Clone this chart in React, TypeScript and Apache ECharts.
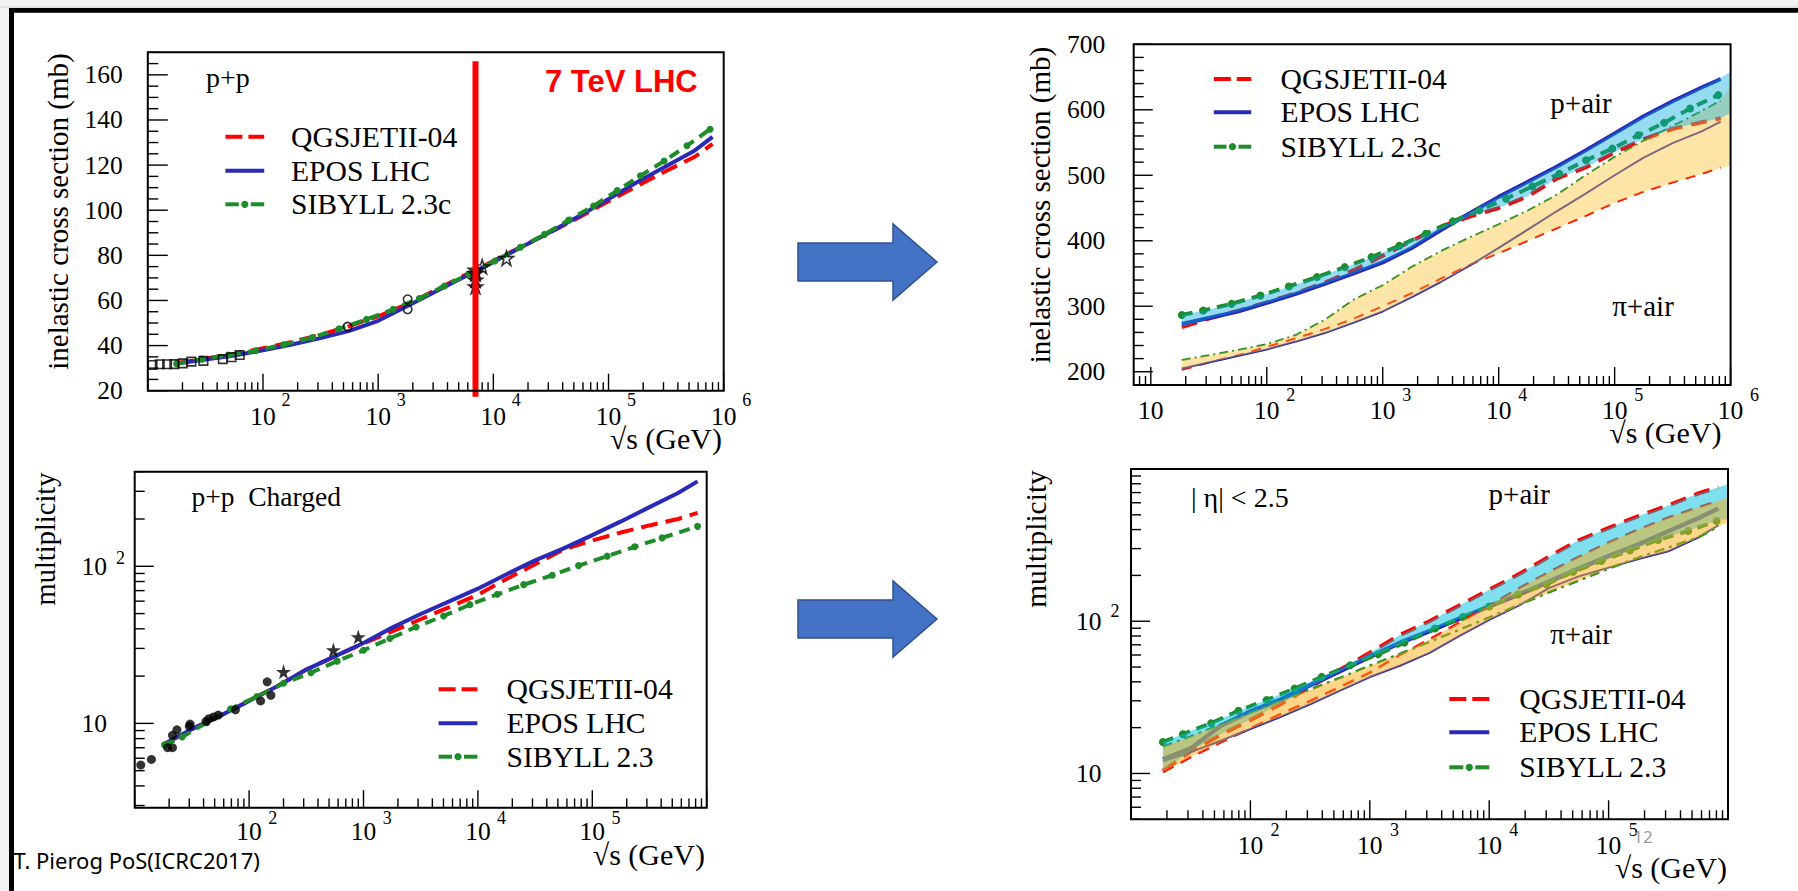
import React, { useEffect, useRef } from "react";
import * as echarts from "echarts";

const SERIF = "'Liberation Serif', 'Times New Roman', Times, serif";
const SANS = "'Liberation Sans', Arial, Helvetica, sans-serif";
const RED = "#ff0000";
const BLUE = "#2a2ab8";
const GREEN = "#1e8c28";

// ---------- p+p inelastic cross section (mb) vs sqrt(s) (GeV) ----------
const ppXsEnergy = [17.8, 31.6, 56.2, 100, 178, 316, 562, 1000, 1780, 3160, 5620, 10000, 17800, 31600, 56200, 100000, 178000, 316000, 562000, 800000];
const ppXsQgsjet = [32.3, 34.2, 36.4, 38.8, 41.6, 44.8, 48.6, 53.0, 58.3, 64.6, 71.2, 77.5, 84.0, 90.4, 97.0, 104.0, 110.8, 117.4, 123.7, 129.4];
const ppXsEpos = [32.0, 33.8, 35.6, 37.9, 40.5, 43.3, 46.5, 51.0, 57.4, 64.0, 70.5, 77.0, 83.8, 90.5, 97.5, 105.0, 112.5, 119.5, 126.5, 132.5];
const ppXsSibyllEnergy = [17.8, 29.5, 50.1, 86.5, 151, 269, 457, 792, 1349, 2275, 3767, 6109, 10304, 17179, 27861, 45186, 74131, 119124, 189234, 304089, 479733, 762079];
const ppXsSibyll = [32.0, 34.0, 35.8, 37.7, 40.4, 43.6, 47.4, 51.6, 56.1, 60.9, 66.4, 71.7, 77.5, 83.6, 89.3, 95.7, 101.9, 108.7, 115.3, 121.8, 128.6, 135.9];
const ppXsFixedTargetE = [11.0, 12.7, 14.7, 17.0, 20.1, 23.9, 30.4, 44.8, 53.3, 62.8];
const ppXsFixedTarget = [31.4, 31.7, 31.7, 31.8, 32.1, 32.9, 33.2, 34.0, 34.8, 35.8];
const ppXsColliderE = [543, 1803, 1803];
const ppXsCollider = [48.4, 60.5, 56.1];
const ppXsLhcE = [7000, 7000, 7000, 7000, 8000, 13000];
const ppXsLhc = [73.5, 69.1, 66.1, 72.0, 75.0, 78.7];
const lhcSqrtS = 7000; // 7 TeV LHC marker

// ---------- p/pi + air inelastic cross section (mb) ----------
const airXsEnergy = [18.5, 31.6, 56.2, 100, 178, 316, 562, 1000, 1780, 3160, 5620, 10000, 17800, 31600, 56200, 100000, 178000, 316000, 562000, 822000];
const pAirXsQgsjet = [268, 281, 293, 306, 320, 336, 355, 377, 400, 421, 437, 450, 468, 495, 512, 535, 555, 571, 581, 587];
const pAirXsEpos = [273, 282, 292, 305, 319, 334, 350, 367, 389, 416, 442, 467, 490, 513, 538, 564, 590, 613, 634, 647];
const pAirXsSibyllEnergy = [18.5, 28.3, 49.7, 88.1, 155, 271, 471, 800, 1390, 2360, 4018, 6823, 11561, 19498, 33343, 56624, 95499, 159956, 266686, 446684, 783430];
const pAirXsSibyll = [286.7, 293.4, 303.6, 316.3, 330.1, 344.4, 359.7, 375.0, 392.3, 410.7, 429.6, 446.4, 464.2, 483.0, 502.4, 522.8, 540.7, 561.0, 580.0, 602.0, 622.4];
const piAirXsQgsjet = [203, 214, 225, 238, 251, 265, 281, 300, 320, 342, 363, 381, 400, 419, 438, 458, 475, 489, 502, 512];
const piAirXsEpos = [205, 214, 224, 234, 246, 259, 275, 292, 314, 337, 362, 389, 417, 445, 472, 500, 527, 549, 567, 582];
const piAirXsSibyll = [218, 225, 233, 242, 256, 279, 310, 332, 360, 384, 405, 425, 446, 470, 500, 528, 553, 575, 598, 614];
const airXsBandEnergy = [18.5, 31.6, 56.2, 100, 178, 316, 562, 1000, 1780, 3160, 5620, 10000, 17800, 31600, 56200, 100000, 178000, 316000, 562000, 822000, 1000000];
const pAirXsBandHi = [287, 295, 306, 319, 333, 349, 364, 382, 401, 421, 443, 467, 490, 513, 538, 564, 590, 613, 634, 649, 658];
const pAirXsBandLo = [268, 281, 292, 305, 319, 334, 350, 367, 389, 416, 437, 450, 468, 495, 512, 535, 555, 571, 581, 587, 595];
const piAirXsBandHi = [218, 225, 233, 242, 256, 279, 310, 332, 360, 384, 405, 425, 446, 470, 500, 528, 553, 575, 598, 614, 635];
const piAirXsBandLo = [203, 214, 224, 234, 246, 259, 275, 292, 314, 337, 362, 381, 400, 419, 438, 458, 475, 489, 502, 512, 514];

// ---------- p+p charged multiplicity ----------
const ppMultEnergy = [18.2, 31.6, 56.2, 100, 178, 316, 562, 1000, 1780, 3160, 5620, 10000, 17800, 31600, 56200, 100000, 178000, 316000, 562000, 832000];
const ppMultEpos = [7.4, 9.2, 11.2, 13.9, 17.3, 22.0, 26.7, 32.5, 40.7, 49.7, 59.8, 72.0, 89.0, 109, 130, 158, 193, 238, 293, 347];
const ppMultQgsjet = [7.4, 9.2, 11.2, 13.9, 17.3, 22.0, 26.7, 32.3, 38.5, 46.0, 55.0, 66.0, 83.0, 103, 128, 146, 164, 182, 200, 219];
const ppMultSibyllEnergy = [18.2, 26.0, 42.7, 69.0, 117, 200, 347, 589, 1000, 1698, 2884, 5012, 8511, 14791, 25119, 44668, 75858, 134896, 234423, 407380, 831764];
const ppMultSibyll = [7.3, 8.2, 10.1, 12.4, 14.8, 18.0, 21.0, 24.9, 29.2, 34.7, 41.1, 48.3, 57.0, 66.3, 76.4, 87.7, 101, 116, 133, 151.6, 179.5];
const ppMultDataE = [11.3, 14.0, 19.4, 21.4, 21.4, 23.4, 30.0, 30.5, 42.0, 44.5, 49.0, 53.7, 76.0, 126, 144, 155];
const ppMultData = [5.43, 5.9, 7.0, 7.0, 8.4, 9.1, 9.6, 9.9, 10.3, 10.7, 11.0, 11.3, 12.2, 13.9, 18.4, 15.1];
const ppMultStarE = [200, 546, 900];
const ppMultStar = [21.3, 29.3, 35.5];

// ---------- p/pi + air multiplicity (|eta| < 2.5) ----------
const airMultEnergy = [18.5, 31.6, 56.2, 100, 178, 316, 562, 1000, 1780, 3160, 5620, 10000, 17800, 31600, 56200, 100000, 178000, 316000, 562000, 832000];
const pAirMultQgsjet = [10.4, 14.0, 18.0, 22.5, 28.5, 37, 48, 62, 81, 100, 127, 161, 204, 265, 340, 410, 491, 576, 690, 760];
const pAirMultEpos = [12.4, 14.6, 20.5, 25.5, 30.5, 38, 47, 58.5, 72, 86, 104, 125, 150, 182, 222, 268, 320, 390, 475, 550];
const pAirMultSibyllEnergy = [18.5, 27.2, 46.9, 79.4, 137, 234, 396, 686, 1175, 1950, 3508, 6026, 10000, 17458, 30200, 50466, 87096, 150661, 260615, 464515, 801678];
const pAirMultSibyll = [16.1, 18.1, 21.4, 25.8, 30.4, 36.1, 43.1, 51.4, 60.7, 72.4, 89.5, 106.7, 125, 150, 175, 211, 249, 292, 342, 392, 456];
const piAirMultQgsjet = [10.2, 12.8, 16.0, 19.8, 24.5, 30, 37, 46, 60, 76, 98, 127, 165, 210, 265, 330, 400, 480, 560, 617];
const piAirMultEpos = [12.0, 13.8, 16.4, 19.6, 23.5, 28.5, 35, 43, 51, 62, 80, 102, 127, 165, 197, 225, 256, 288, 355, 427];
const piAirMultSibyll = [15.0, 17.5, 21.0, 25.0, 30.0, 35.5, 42.5, 51, 61, 73, 88, 106, 128, 155, 185, 222, 262, 305, 355, 420];
const airMultBandEnergy = [18.5, 31.6, 56.2, 100, 178, 316, 562, 1000, 1780, 3160, 5620, 10000, 17800, 31600, 56200, 100000, 178000, 316000, 562000, 832000, 1000000];
const pAirMultBandHi = [16.1, 19.0, 22.8, 27.6, 33, 40, 48.3, 62, 81, 100, 127, 161, 204, 265, 340, 410, 491, 576, 690, 760, 794];
const pAirMultBandLo = [10.4, 14.0, 18.0, 22.5, 28.5, 37, 47, 57.8, 70.3, 86, 104, 125, 150, 178, 218, 259, 306, 358, 414, 460, 470];
const piAirMultBandHi = [15.0, 17.5, 21.0, 25.0, 30.0, 35.5, 42.5, 51, 61, 76, 98, 127, 165, 210, 265, 330, 400, 480, 560, 617, 649];
const piAirMultBandLo = [10.2, 12.8, 16.0, 19.6, 23.5, 28.5, 35, 43, 51, 62, 80, 102, 127, 155, 185, 222, 256, 288, 355, 420, 445];

// ---------- tick labels ----------
const decadeLabels: [number, string][] = [[10, ""], [100, "2"], [1000, "3"], [10000, "4"], [100000, "5"], [1000000, "6"]];
const xLabelsPanel = [[100, 1000, 10000, 100000, 1000000], [10, 100, 1000, 10000, 100000, 1000000], [100, 1000, 10000, 100000], [100, 1000, 10000, 100000]];
const ppXsYLabels = [20, 40, 60, 80, 100, 120, 140, 160];
const airXsYLabels = [200, 300, 400, 500, 600, 700];
const multYLabels = [10, 100];
const legendNamesC = ["QGSJETII-04", "EPOS LHC", "SIBYLL 2.3c"];
const legendNames = ["QGSJETII-04", "EPOS LHC", "SIBYLL 2.3"];

// plot frames (pixel layout) and axis ranges
const frames = [
  { left: 147.8, top: 52.3, width: 575.9, height: 338.4, xMin: 10, xMax: 1e6, yType: "value", yMin: 20, yMax: 170 },
  { left: 1133.7, top: 44.3, width: 596.9, height: 340.7, xMin: 7.12, xMax: 1e6, yType: "value", yMin: 179.7, yMax: 700 },
  { left: 134.7, top: 471.7, width: 572, height: 336, xMin: 10, xMax: 1e6, yType: "log", yMin: 2.906, yMax: 400 },
  { left: 1131, top: 469, width: 597, height: 350.3, xMin: 10, xMax: 1e6, yType: "log", yMin: 5, yMax: 1000 },
];

const TICK_FONT = 25.5;
const SUP_FONT = 18;

const pairs = (xs: number[], ys: number[]) => xs.map((x, i) => [x, ys[i]]);

function lineSeries(gi: number, name: string, xs: number[], ys: number[], color: string, width: number, dash: any, dots = false, dotSize = 8) {
  return {
    type: "line", name, xAxisIndex: gi, yAxisIndex: gi, data: pairs(xs, ys),
    showSymbol: dots, symbol: dots ? "circle" : "none", symbolSize: dotSize,
    itemStyle: { color }, lineStyle: { color, width, type: dash },
    z: 3, silent: true, clip: true,
  };
}

function scatterSeries(gi: number, name: string, xs: number[], ys: number[], symbol: string, size: number, filled: boolean) {
  return {
    type: "scatter", name, xAxisIndex: gi, yAxisIndex: gi, data: pairs(xs, ys), symbol, symbolSize: size,
    itemStyle: filled ? { color: "#000" } : { color: "rgba(0,0,0,0)", borderColor: "#000", borderWidth: 1.6 },
    z: 7, silent: true,
  };
}

function bandSeries(gi: number, xs: number[], lo: number[], hi: number[], fill: string, z: number) {
  return {
    type: "custom", xAxisIndex: gi, yAxisIndex: gi, silent: true, z,
    data: xs.map((x, i) => [x, lo[i], hi[i]]), encode: { x: 0, y: [1, 2] },
    renderItem: (params: any, api: any) => {
      if (params.dataIndex !== 0) return null;
      const top = xs.map((x, i) => api.coord([x, hi[i]]));
      const bot = xs.map((x, i) => api.coord([x, lo[i]])).reverse();
      return { type: "polygon", shape: { points: top.concat(bot) }, style: { fill } };
    },
  };
}

function logTicks(lo: number, hi: number) {
  const out: [number, boolean][] = [];
  for (let e = Math.floor(Math.log10(lo)); e <= Math.floor(Math.log10(hi)); e++) {
    for (let k = 1; k <= 9; k++) {
      const v = k * Math.pow(10, e);
      if (v >= lo - 1e-9 && v <= hi + 1e-9) out.push([v, k === 1]);
    }
  }
  return out;
}

function linearTicks(lo: number, hi: number, majorStep: number, minorStep: number) {
  const out: [number, boolean][] = [];
  const start = Math.ceil(lo / minorStep - 1e-9) * minorStep;
  for (let v = start; v <= hi + 1e-9; v += minorStep) {
    const r = Math.round(v * 1e6) / 1e6;
    out.push([r, Math.abs(r / majorStep - Math.round(r / majorStep)) < 1e-6]);
  }
  return out;
}

function tickSeries(gi: number, xLen: [number, number], yLen: [number, number], yTicks: [number, boolean][]) {
  const f = frames[gi];
  const data: number[][] = [];
  logTicks(f.xMin, f.xMax).forEach(([v, major]) => data.push([v, f.yMin, major ? xLen[0] : xLen[1], 0]));
  yTicks.forEach(([v, major]) => data.push([f.xMin, v, major ? yLen[0] : yLen[1], 1]));
  return {
    type: "custom", xAxisIndex: gi, yAxisIndex: gi, silent: true, z: 8, data, encode: { x: 0, y: 1 },
    renderItem: (params: any, api: any) => {
      const p = api.coord([api.value(0), api.value(1)]);
      const len = api.value(2);
      const horiz = api.value(3) === 1;
      return {
        type: "line",
        shape: horiz ? { x1: p[0], y1: p[1], x2: p[0] + len, y2: p[1] } : { x1: p[0], y1: p[1], x2: p[0], y2: p[1] - len },
        style: { stroke: "#000", lineWidth: 1.4 },
      };
    },
  };
}

function tText(x: number, y: number, text: string, size: number, align: string, family = SERIF) {
  return { type: "text", x, y, style: { text, fill: "#000", fontSize: size, fontFamily: family, align, verticalAlign: "middle" } };
}

type Lbl = { kind: "x" | "y"; v: number; text: string; sup: string };

function labelSeries(gi: number, labels: Lbl[], cfg: { yDx: number; yRaise: number; xDy: number; supDx: number; supDy: number }) {
  const f = frames[gi];
  return {
    type: "custom", xAxisIndex: gi, yAxisIndex: gi, silent: true, z: 8,
    data: labels.map((l) => (l.kind === "x" ? [l.v, f.yMin] : [f.xMin, l.v])), encode: { x: 0, y: 1 },
    renderItem: (params: any, api: any) => {
      const l = labels[params.dataIndex];
      const p = api.coord([api.value(0), api.value(1)]);
      const children: any[] = [];
      if (l.kind === "x") {
        children.push(tText(p[0], p[1] + cfg.xDy, l.text, TICK_FONT, "center"));
        if (l.sup) children.push(tText(p[0] + cfg.supDx, p[1] + cfg.supDy, l.sup, SUP_FONT, "center"));
      } else {
        children.push(tText(p[0] - cfg.yDx, p[1], l.text, TICK_FONT, "right"));
        if (l.sup) children.push(tText(p[0] - cfg.yDx + 9, p[1] - cfg.yRaise, l.sup, SUP_FONT, "left"));
      }
      return { type: "group", children };
    },
  };
}

const decade = (v: number) => decadeLabels.find((d) => d[0] === v)!;
const xDecadeLabels = (vals: number[]): Lbl[] => vals.map((v) => ({ kind: "x", v, text: "10", sup: decade(v)[1] }));
const yDecadeLabels = (vals: number[]): Lbl[] => vals.map((v) => ({ kind: "y", v, text: "10", sup: decade(v)[1] }));
const yPlainLabels = (vals: number[]): Lbl[] => vals.map((v) => ({ kind: "y", v, text: String(v), sup: "" }));

function gText(x: number, y: number, text: string, size: number, align: string, opts: any = {}) {
  return {
    type: "text", x, y, z: 50, silent: true, rotation: opts.rotation || 0, scaleX: opts.scaleX || 1,
    style: {
      text, fill: opts.fill || "#000", fontSize: size, fontFamily: opts.family || SERIF,
      fontWeight: opts.weight || "normal", align, verticalAlign: "middle",
    },
  };
}

function legendBlock(x1: number, x2: number, tx: number, ys: number[], names: string[]) {
  const mid = (x1 + x2) / 2;
  return [
    { type: "line", z: 50, shape: { x1, y1: ys[0], x2, y2: ys[0] }, style: { stroke: RED, lineWidth: 4, lineDash: [17, 6] } },
    { type: "line", z: 50, shape: { x1, y1: ys[1], x2, y2: ys[1] }, style: { stroke: BLUE, lineWidth: 4 } },
    { type: "line", z: 50, shape: { x1, y1: ys[2], x2: mid - 6, y2: ys[2] }, style: { stroke: GREEN, lineWidth: 4 } },
    { type: "line", z: 50, shape: { x1: mid + 6, y1: ys[2], x2, y2: ys[2] }, style: { stroke: GREEN, lineWidth: 4 } },
    { type: "circle", z: 50, shape: { cx: mid, cy: ys[2], r: 3.6 }, style: { fill: GREEN } },
    ...names.map((n, i) => gText(tx, ys[i], n, 28.5, "left", { scaleX: 1.04 })),
  ];
}

function arrow(dy: number) {
  return {
    type: "polygon", z: 50, silent: true,
    shape: { points: [[798, 243 + dy], [893, 243 + dy], [893, 224 + dy], [937, 262 + dy], [893, 300 + dy], [893, 281 + dy], [798, 281 + dy]] },
    style: { fill: "#4472c4", stroke: "#2f528f", lineWidth: 1.5 },
  };
}

function buildOption() {
  const series: any[] = [];

  // panel 0: p+p cross section
  series.push(lineSeries(0, "QGSJETII-04", ppXsEnergy, ppXsQgsjet, RED, 4, [17, 8]));
  series.push(lineSeries(0, "EPOS LHC", ppXsEnergy, ppXsEpos, BLUE, 4, "solid"));
  series.push(lineSeries(0, "SIBYLL 2.3c", ppXsSibyllEnergy, ppXsSibyll, GREEN, 4, [11, 7], true, 7));
  series.push(scatterSeries(0, "fixed target", ppXsFixedTargetE, ppXsFixedTarget, "rect", 8.5, false));
  series.push(scatterSeries(0, "collider", ppXsColliderE, ppXsCollider, "circle", 8.5, false));
  series.push(scatterSeries(0, "LHC", ppXsLhcE, ppXsLhc, "path://M50,0 L61.8,35.4 L100,35.4 L69.1,57.3 L80.9,92.7 L50,70.8 L19.1,92.7 L30.9,57.3 L0,35.4 L38.2,35.4 Z", 14, false));
  series.push({
    type: "custom", xAxisIndex: 0, yAxisIndex: 0, silent: true, z: 9,
    data: [[lhcSqrtS, 166, 20]], encode: { x: 0, y: 1 },
    renderItem: (params: any, api: any) => {
      const a = api.coord([api.value(0), api.value(1)]);
      const b = api.coord([api.value(0), api.value(2)]);
      return { type: "line", shape: { x1: a[0], y1: a[1], x2: b[0], y2: b[1] + 6 }, style: { stroke: RED, lineWidth: 6 } };
    },
  });
  series.push(tickSeries(0, [17, 8.5], [20, 10.5], linearTicks(20, 170, 20, 5)));
  series.push(labelSeries(0, [...xDecadeLabels(xLabelsPanel[0]), ...yPlainLabels(ppXsYLabels)], { yDx: 25, yRaise: 0, xDy: 26, supDx: 23, supDy: 9.6 }));

  // panel 1: p/pi + air cross section
  series.push(lineSeries(1, "QGSJETII-04 p+air", airXsEnergy, pAirXsQgsjet, RED, 4, [16, 9]));
  series.push(lineSeries(1, "EPOS LHC p+air", airXsEnergy, pAirXsEpos, BLUE, 4, "solid"));
  series.push(lineSeries(1, "SIBYLL 2.3c p+air", pAirXsSibyllEnergy, pAirXsSibyll, GREEN, 4, [11, 7], true, 8));
  series.push(lineSeries(1, "QGSJETII-04 pi+air", airXsEnergy, piAirXsQgsjet, RED, 2, [10, 8]));
  series.push(lineSeries(1, "EPOS LHC pi+air", airXsEnergy, piAirXsEpos, BLUE, 2, "solid"));
  series.push(lineSeries(1, "SIBYLL 2.3c pi+air", airXsEnergy, piAirXsSibyll, GREEN, 2, [9, 4, 2, 4]));
  series.push(bandSeries(1, airXsBandEnergy, piAirXsBandLo, piAirXsBandHi, "rgba(251,193,44,0.41)", 4));
  series.push(bandSeries(1, airXsBandEnergy, pAirXsBandLo, pAirXsBandHi, "rgba(0,170,220,0.41)", 5));
  series.push(tickSeries(1, [18, 9], [19, 10], linearTicks(179.7, 700, 100, 20)));
  series.push(labelSeries(1, [...xDecadeLabels(xLabelsPanel[1]), ...yPlainLabels(airXsYLabels)], { yDx: 28.5, yRaise: 0, xDy: 25, supDx: 24, supDy: 10 }));

  // panel 2: p+p multiplicity
  series.push(lineSeries(2, "QGSJETII-04 mult", ppMultEnergy, ppMultQgsjet, RED, 4, [17, 8]));
  series.push(lineSeries(2, "EPOS LHC mult", ppMultEnergy, ppMultEpos, BLUE, 4, "solid"));
  series.push(lineSeries(2, "SIBYLL 2.3 mult", ppMultSibyllEnergy, ppMultSibyll, GREEN, 4, [11, 7], true, 7));
  series.push(scatterSeries(2, "data", ppMultDataE, ppMultData, "circle", 9, true));
  series.push(scatterSeries(2, "collider data", ppMultStarE, ppMultStar, "path://M50,0 L61.8,35.4 L100,35.4 L69.1,57.3 L80.9,92.7 L50,70.8 L19.1,92.7 L30.9,57.3 L0,35.4 L38.2,35.4 Z", 15, true));
  series.push(tickSeries(2, [17.5, 9.3], [19, 10], logTicks(frames[2].yMin, frames[2].yMax)));
  series.push(labelSeries(2, [...xDecadeLabels(xLabelsPanel[2]), ...yDecadeLabels(multYLabels)], { yDx: 27.7, yRaise: 8, xDy: 24, supDx: 23.7, supDy: 10.6 }));

  // panel 3: p/pi + air multiplicity
  series.push(lineSeries(3, "QGSJETII-04 p+air mult", airMultEnergy, pAirMultQgsjet, RED, 4, [16, 9]));
  series.push(lineSeries(3, "EPOS LHC p+air mult", airMultEnergy, pAirMultEpos, BLUE, 4.5, "solid"));
  series.push(lineSeries(3, "SIBYLL 2.3 p+air mult", pAirMultSibyllEnergy, pAirMultSibyll, GREEN, 4, [11, 7], true, 8));
  series.push(lineSeries(3, "QGSJETII-04 pi+air mult", airMultEnergy, piAirMultQgsjet, RED, 2.5, [12, 8]));
  series.push(lineSeries(3, "EPOS LHC pi+air mult", airMultEnergy, piAirMultEpos, BLUE, 2, "solid"));
  series.push(lineSeries(3, "SIBYLL 2.3 pi+air mult", airMultEnergy, piAirMultSibyll, GREEN, 2.5, [10, 5, 3, 5]));
  series.push(bandSeries(3, airMultBandEnergy, pAirMultBandLo, pAirMultBandHi, "rgba(0,192,224,0.5)", 4));
  series.push(bandSeries(3, airMultBandEnergy, piAirMultBandLo, piAirMultBandHi, "rgba(250,174,24,0.5)", 5));
  series.push(tickSeries(3, [19, 9], [19, 10], logTicks(frames[3].yMin, frames[3].yMax)));
  series.push(labelSeries(3, [...xDecadeLabels(xLabelsPanel[3]), ...yDecadeLabels(multYLabels)], { yDx: 29.4, yRaise: 10, xDy: 25.7, supDx: 24.6, supDy: 10.7 }));

  const graphics: any[] = [
    { type: "rect", z: -10, silent: true, shape: { x: 9, y: 8, width: 1789, height: 883 }, style: { fill: "#ffffff" } },
    { type: "rect", z: -9, silent: true, shape: { x: 0, y: 6.5, width: 1798, height: 1 }, style: { fill: "#d0d0d0" } },
    { type: "rect", z: 60, silent: true, shape: { x: 9, y: 8, width: 1789, height: 4.7 }, style: { fill: "#000" } },
    { type: "rect", z: 60, silent: true, shape: { x: 9, y: 8, width: 5, height: 883 }, style: { fill: "#000" } },
    arrow(0),
    arrow(357),
    // axis titles
    gText(57.8, 211.5, "inelastic cross section (mb)", 29, "center", { rotation: Math.PI / 2 }),
    gText(1040, 205, "inelastic cross section (mb)", 29, "center", { rotation: Math.PI / 2 }),
    gText(45.7, 539, "multiplicity", 28.5, "center", { rotation: Math.PI / 2 }),
    gText(1036, 539, "multiplicity", 29.5, "center", { rotation: Math.PI / 2 }),
    gText(722, 438, "\u221As (GeV)", 30, "right"),
    gText(1721.5, 432, "\u221As (GeV)", 30, "right"),
    gText(705, 854, "\u221As (GeV)", 30, "right"),
    gText(1727, 867, "\u221As (GeV)", 30, "right"),
    // in-frame annotations
    gText(206, 77, "p+p", 28, "left"),
    gText(545, 81, "7 TeV LHC", 31, "left", { family: SANS, weight: "bold", fill: RED }),
    gText(1581, 103, "p+air", 29, "center"),
    gText(1643, 306, "\u03C0+air", 29, "center"),
    gText(191.5, 496.7, "p+p  Charged", 27.5, "left"),
    gText(1191, 497, "| \u03B7| < 2.5", 28, "left"),
    gText(1519.3, 494, "p+air", 29, "center"),
    gText(1581, 633.5, "\u03C0+air", 29, "center"),
    ...legendBlock(225.4, 264.2, 291, [136.7, 170.7, 204.3], legendNamesC),
    ...legendBlock(1213.8, 1251.2, 1280.6, [79, 112.3, 146.7], legendNamesC),
    ...legendBlock(438.6, 477.4, 506.5, [689.3, 723.3, 756.7], legendNames),
    ...legendBlock(1449.3, 1489.3, 1519.3, [699, 732.3, 767.3], legendNames),
    gText(13.5, 860, "T. Pierog PoS(ICRC2017)", 22, "left", { family: "'Noto Sans', 'Open Sans', sans-serif" }),
    gText(1643, 836, "12", 17, "center", { family: "'Noto Sans', sans-serif", fill: "#9a9a9a" }),
  ];

  return {
    animation: false,
    backgroundColor: "#f2f2f2",
    grid: frames.map((f) => ({
      left: f.left, top: f.top, width: f.width, height: f.height, show: true,
      borderColor: "#000", borderWidth: 2, backgroundColor: "transparent", z: 10, containLabel: false, outerBoundsMode: "none",
    })),
    xAxis: frames.map((f, i) => ({ type: "log", logBase: 10, gridIndex: i, min: f.xMin, max: f.xMax, show: false })),
    yAxis: frames.map((f, i) => ({ type: f.yType, logBase: 10, gridIndex: i, min: f.yMin, max: f.yMax, show: false })),
    series,
    graphic: { elements: graphics },
  };
}

export default function App() {
  const ref = useRef<HTMLDivElement>(null);
  useEffect(() => {
    const chart = echarts.init(ref.current!, null, { renderer: "svg" });
    chart.setOption(buildOption() as any);
    return () => chart.dispose();
  }, []);
  return <div ref={ref} style={{ position: "absolute", left: 0, top: 0, width: 1798, height: 891 }} />;
}
